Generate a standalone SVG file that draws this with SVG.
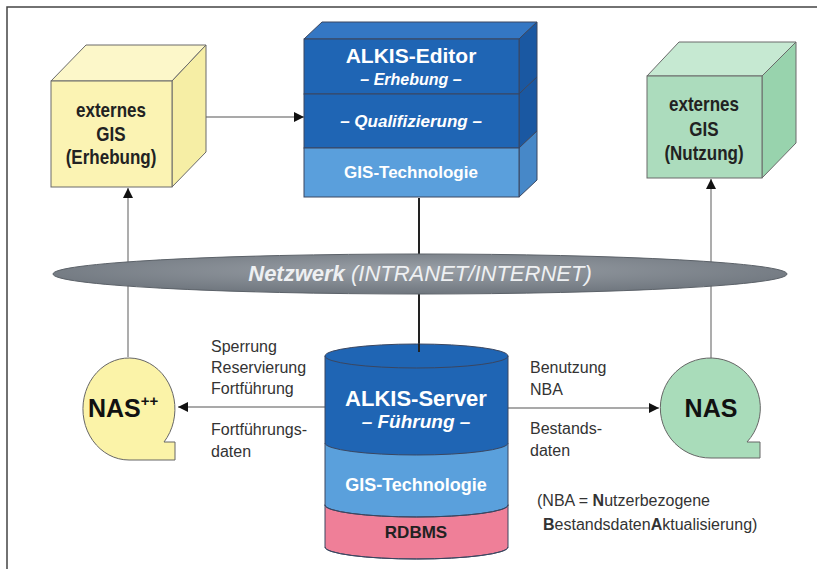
<svg xmlns="http://www.w3.org/2000/svg" width="826" height="569" viewBox="0 0 826 569">
<style>
text{font-family:"Liberation Sans",Arial,sans-serif}
.cube{stroke:#6a6a6a;stroke-width:1}
.lbl{font-size:16px;fill:#333}
.cubetxt{font-size:20px;font-weight:bold;fill:#222;text-anchor:middle}
.wt{fill:#fff;text-anchor:middle;font-weight:bold}
.conn{fill:none;stroke:#555;stroke-width:1.2}
.grey{fill:none;stroke:#8a8a8a;stroke-width:1.4}
.edge{stroke:#3a4660;stroke-width:1}
</style>
<defs>
<marker id="ah" viewBox="0 0 10 10" refX="10" refY="5" markerWidth="10" markerHeight="10" markerUnits="userSpaceOnUse" orient="auto">
<path d="M0,0 L10,5 L0,10 Z" fill="#111"/>
</marker>
<radialGradient id="netg" cx="50%" cy="40%" r="60%">
<stop offset="0" stop-color="#9aa0a7"/>
<stop offset="1" stop-color="#6f767e"/>
</radialGradient>
</defs>
<g id="frame">
<path d="M7,569 V7 H817" fill="none" stroke="#444" stroke-width="1.5"/>
</g>
<g id="connectors">
<line class="conn" x1="196" y1="117" x2="304" y2="117" marker-end="url(#ah)"/>
<line class="grey" x1="128" y1="357" x2="128" y2="188" marker-end="url(#ah)"/>
<line class="grey" x1="711" y1="358" x2="711" y2="179" marker-end="url(#ah)"/>
<line x1="419" y1="198" x2="419" y2="352" stroke="#222" stroke-width="2"/>
<line class="conn" x1="325" y1="407" x2="178" y2="407" marker-end="url(#ah)"/>
<line class="conn" x1="508" y1="408" x2="659" y2="408" marker-end="url(#ah)"/>
</g>
<g id="netzwerk">
<ellipse cx="420" cy="274" rx="367" ry="20" fill="url(#netg)" stroke="#5c6269" stroke-width="1"/>
<text x="420" y="281" text-anchor="middle" font-size="22" font-style="italic" fill="#eef0f2"><tspan font-weight="bold">Netzwerk</tspan> (INTRANET/INTERNET)</text>
</g>
<g id="gis-erhebung">
<polygon class="cube" points="51,81 86,45 206,45 172,81" fill="#fcf7c9"/>
<polygon class="cube" points="172,81 206,45 206,152 172,187" fill="#f6eea5"/>
<rect class="cube" x="51" y="81" width="121" height="106" fill="#fbf3b3"/>
<g transform="translate(111,0) scale(0.85,1)">
<text class="cubetxt" x="0" y="117">externes</text>
<text class="cubetxt" x="0" y="141">GIS</text>
<text class="cubetxt" x="0" y="164">(Erhebung)</text>
</g>
</g>
<g id="gis-nutzung">
<polygon class="cube" points="647,76 679,42 796,42 762,76" fill="#c6e9d2"/>
<polygon class="cube" points="762,76 796,42 796,143 762,178" fill="#98d3ad"/>
<rect class="cube" x="647" y="76" width="115" height="102" fill="#acdcbd"/>
<g transform="translate(704,0) scale(0.85,1)">
<text class="cubetxt" x="0" y="111">externes</text>
<text class="cubetxt" x="0" y="136">GIS</text>
<text class="cubetxt" x="0" y="160">(Nutzung)</text>
</g>
</g>
<g id="alkis-editor">
<polygon class="edge" points="304,39 322,22 537,22 519,39" fill="#3477c4"/>
<polygon class="edge" points="519,39 537,22 537,77 519,94" fill="#1a58a2"/>
<polygon class="edge" points="519,94 537,77 537,131 519,148" fill="#1a58a2"/>
<polygon class="edge" points="519,148 537,131 537,180 519,197" fill="#4788c8"/>
<rect class="edge" x="304" y="39" width="215" height="55" fill="#1f65b4"/>
<rect class="edge" x="304" y="94" width="215" height="54" fill="#1f65b4"/>
<rect class="edge" x="304" y="148" width="215" height="49" fill="#5a9fdc"/>
<text class="wt" x="411" y="63" font-size="21">ALKIS-Editor</text>
<text class="wt" x="411" y="85" font-size="16" font-style="italic">– Erhebung –</text>
<text class="wt" x="411" y="127" font-size="17" font-style="italic">– Qualifizierung –</text>
<text class="wt" x="411" y="178" font-size="17">GIS-Technologie</text>
</g>
<g id="alkis-server">
<path class="edge" d="M325,547 V505 A91.5,12 0 0,1 508,505 V547 A91.5,12 0 0,1 325,547 Z" fill="#ef7f98"/>
<path class="edge" d="M325,505 V443 H508 V505 A91.5,12 0 0,1 325,505 Z" fill="#5aa0dc"/>
<path class="edge" d="M325,356 V443 A91.5,12 0 0,0 508,443 V356 Z" fill="#1f65b4"/>
<path class="edge" d="M325,505 A91.5,12 0 0,0 508,505" fill="none"/>
<path class="edge" d="M325,547 A91.5,12 0 0,0 508,547" fill="none"/>
<ellipse class="edge" cx="416.5" cy="356" rx="91.5" ry="12" fill="#1f65b4"/>
<line x1="419" y1="344" x2="419" y2="352" stroke="#222" stroke-width="2"/>
<text class="wt" x="416" y="406" font-size="22">ALKIS-Server</text>
<text class="wt" x="416" y="428" font-size="19" font-style="italic" font-weight="normal">– Führung –</text>
<text class="wt" x="416" y="491" font-size="18">GIS-Technologie</text>
<text x="416" y="538" font-size="17" font-weight="bold" fill="#222" text-anchor="middle">RDBMS</text>
</g>
<g id="nas-plus">
<path d="M164,442 A46,51 0 1,0 129,460 H175 V442 Z" fill="#fbf3a8" stroke="#666" stroke-width="1"/>
<text x="88" y="417" font-size="25" font-weight="bold" fill="#111">NAS<tspan font-size="15" dy="-11">++</tspan></text>
</g>
<g id="nas">
<path d="M747,442 A50,50 0 1,0 711,458 H760 V442 Z" fill="#a9dcba" stroke="#666" stroke-width="1"/>
<text x="711" y="417" font-size="25" font-weight="bold" fill="#111" text-anchor="middle">NAS</text>
</g>
<g id="labels">
<text class="lbl" x="211" y="352">Sperrung</text>
<text class="lbl" x="211" y="373">Reservierung</text>
<text class="lbl" x="211" y="394">Fortführung</text>
<text class="lbl" x="211" y="435">Fortführungs-</text>
<text class="lbl" x="211" y="457">daten</text>
<text class="lbl" x="530" y="373">Benutzung</text>
<text class="lbl" x="530" y="395">NBA</text>
<text class="lbl" x="530" y="434">Bestands-</text>
<text class="lbl" x="530" y="456">daten</text>
<text class="lbl" x="537" y="506">(NBA = <tspan font-weight="bold">N</tspan>utzerbezogene</text>
<text class="lbl" x="543" y="530"><tspan font-weight="bold">B</tspan>estandsdaten<tspan font-weight="bold">A</tspan>ktualisierung)</text>
</g>
</svg>
